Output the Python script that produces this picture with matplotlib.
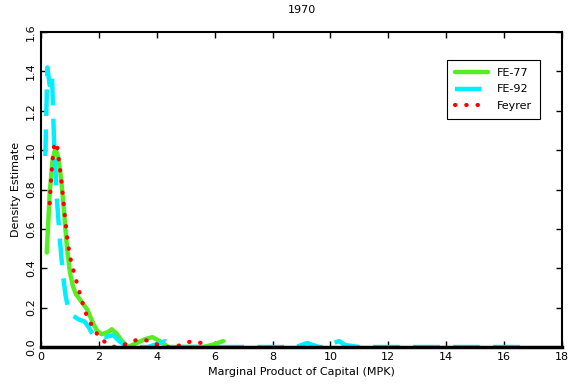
import matplotlib.pyplot as plt
import numpy as np

# FE-77 (green, solid)
fe77_x = [0.2, 0.3, 0.4, 0.5, 0.6, 0.7, 0.8, 0.9, 1.0, 1.1, 1.2, 1.4, 1.6, 1.8, 1.95, 2.1, 2.3, 2.45, 2.6, 2.8, 3.0, 3.3,
          3.6, 3.85, 4.1, 4.4, 5.0, 5.6, 5.9, 6.1, 6.3]
fe77_y = [0.48, 0.78, 0.95, 1.01, 0.96, 0.85, 0.68, 0.5, 0.38, 0.31, 0.27, 0.23, 0.19, 0.12, 0.08, 0.065, 0.075, 0.09,
          0.07, 0.03, 0.0, 0.02, 0.04, 0.05, 0.03, 0.0, 0.0, 0.0, 0.01, 0.02, 0.03]

# FE-92 (cyan, dashed)
fe92_x = [0.15, 0.22, 0.3, 0.38, 0.45, 0.55, 0.65, 0.75, 0.85, 0.95, 1.1, 1.3, 1.5, 1.65, 1.8, 2.0, 2.2, 2.5, 2.7,
          2.9, 3.1, 3.7, 4.1, 4.3, 4.6, 6.0, 8.0, 8.8, 9.0, 9.2, 9.6, 9.9, 10.1, 10.3, 10.5, 11.0, 13.0, 15.0, 16.7]
fe92_y = [0.97, 1.42, 1.33, 1.38, 1.05, 0.75, 0.55, 0.38, 0.26, 0.19, 0.16, 0.14, 0.13, 0.1, 0.06, 0.05, 0.05, 0.06,
          0.03, 0.01, 0.0, 0.0, 0.02, 0.03, 0.0, 0.0, 0.0, 0.0, 0.01, 0.02, 0.0, 0.0, 0.02, 0.03, 0.01, 0.0, 0.0, 0.0, 0.0]

# Feyrer (red, dotted)
fey_x = [0.3, 0.35, 0.4, 0.45, 0.5, 0.55, 0.6, 0.7, 0.8, 0.9, 1.0, 1.1, 1.25, 1.4, 1.6, 1.8, 2.0, 2.3, 2.55, 2.85,
         3.15, 3.45, 3.75, 4.05, 4.35, 4.65, 4.95, 5.25, 5.55, 5.85]
fey_y = [0.73, 0.86, 0.95, 1.02, 1.04, 1.03, 0.97, 0.85, 0.7, 0.56, 0.46, 0.4, 0.32, 0.24, 0.15, 0.1, 0.05, 0.015, 0.0,
         0.01, 0.03, 0.04, 0.03, 0.01, 0.0, 0.0, 0.02, 0.03, 0.02, 0.02]

fig = plt.figure(figsize=(5.71, 3.92), dpi=100)
ax = fig.add_axes([41 / 571, 1 - 347 / 392, 521 / 571, 315 / 392])

ax.plot(fe77_x, fe77_y, color='#55ee22', lw=3.2, label='FE-77', solid_capstyle='round')
ax.plot(fe92_x, fe92_y, color='#00eeff', lw=3.2, dashes=(6, 3), label='FE-92')
ax.plot(fey_x, fey_y, color='red', lw=3.0, linestyle=(0, (0.1, 2.6)), dash_capstyle='round', label='Feyrer')

ax.set_xlim(0, 18)
ax.set_ylim(0, 1.6)
ax.set_xticks(np.arange(0, 19, 2))
ax.set_yticks(np.arange(0, 1.61, 0.2))
ax.set_yticklabels([f'{v:.1f}' for v in np.arange(0, 1.61, 0.2)], rotation=90, va='center')
ax.tick_params(direction='in', top=True, right=True, labelsize=8, length=4, width=1)
for s in ax.spines.values():
    s.set_linewidth(1.5)
ax.spines['bottom'].set_linewidth(2.5)

ax.set_xlabel('Marginal Product of Capital (MPK)', fontsize=8)
ax.set_ylabel('Density Estimate', fontsize=8)
ax.set_title('1970', fontsize=8, pad=14)

leg = ax.legend(loc='upper right', bbox_to_anchor=(0.958, 0.911), borderaxespad=0, fontsize=8, fancybox=False,
                edgecolor='black', framealpha=1, handlelength=3, labelspacing=0.6, borderpad=0.7)
leg.get_frame().set_linewidth(0.8)

plt.savefig('out.png')
